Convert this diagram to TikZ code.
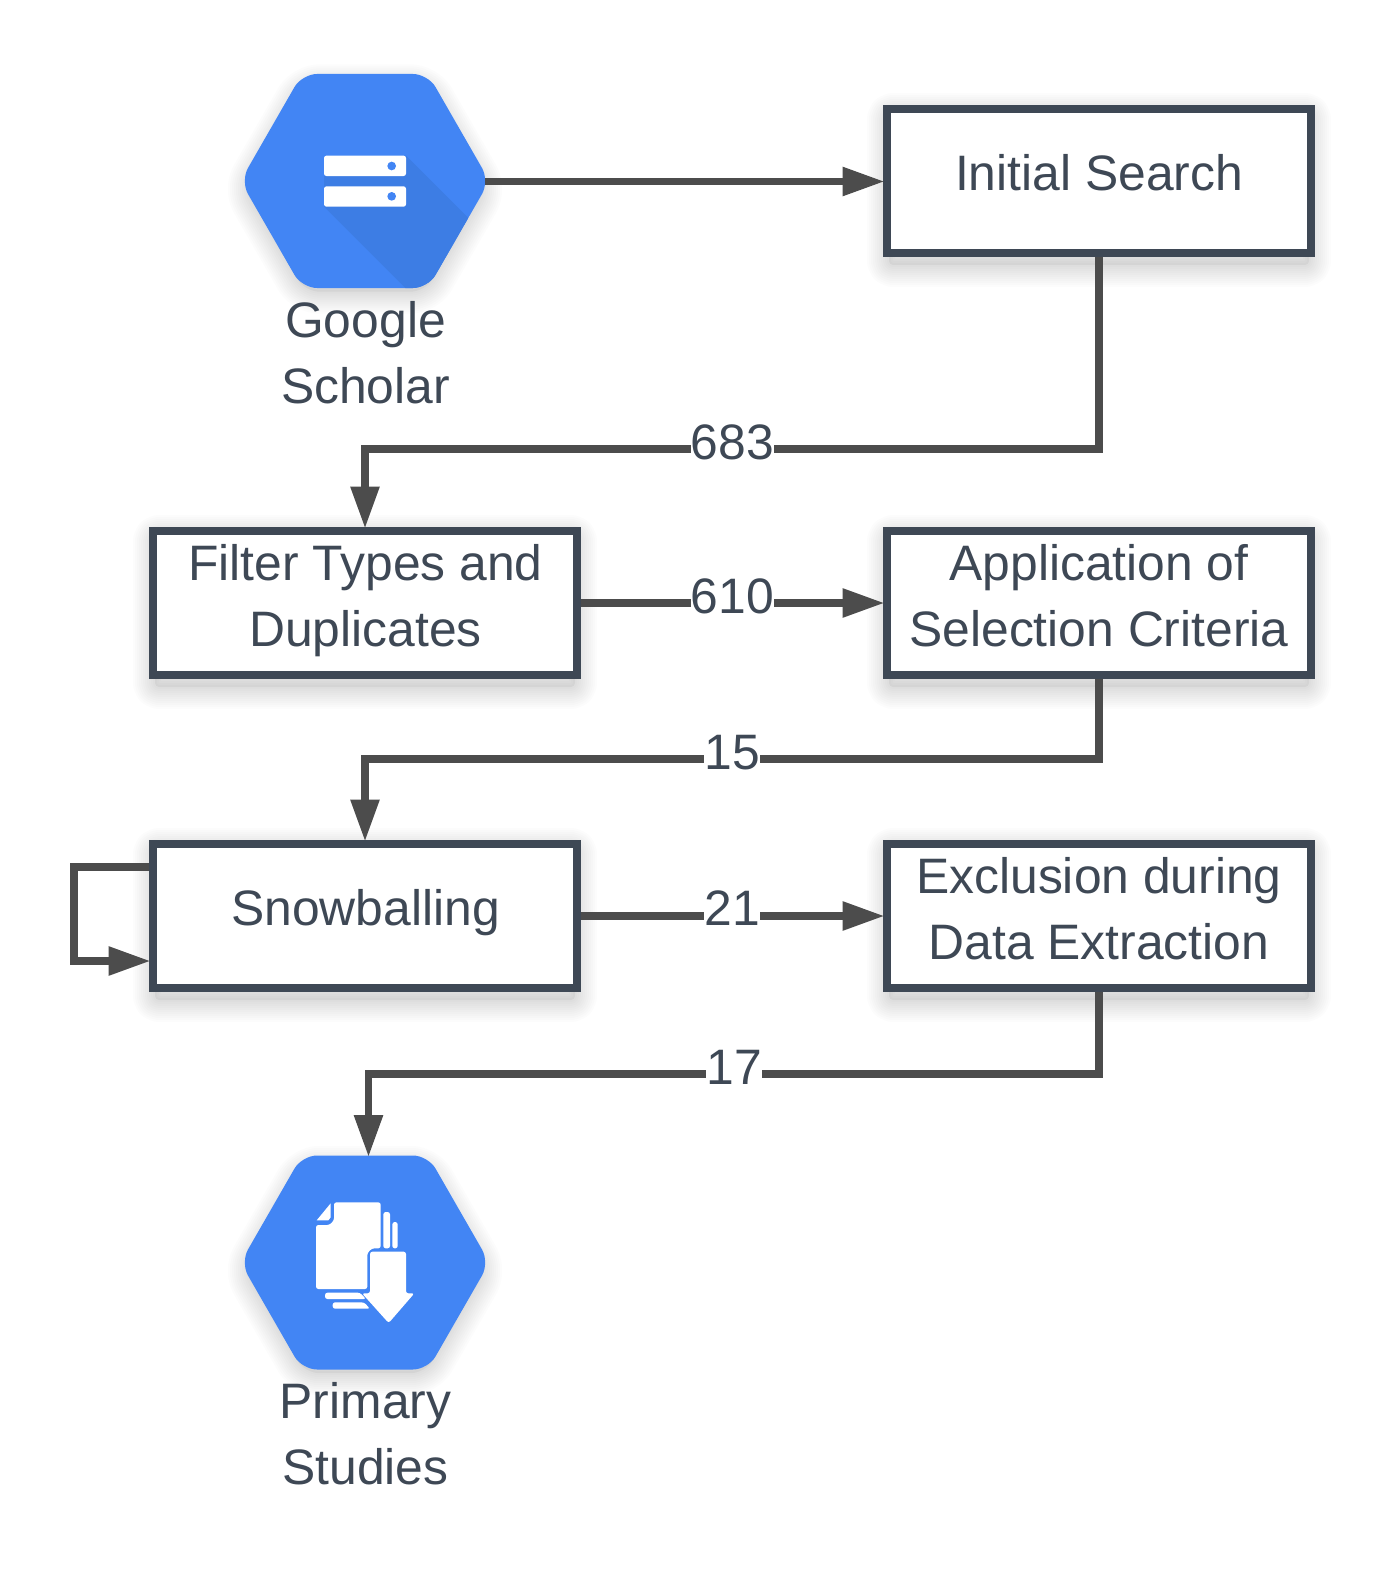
\documentclass[tikz,border=0pt]{standalone}
\usepackage{fontspec}
\setmainfont{Liberation Sans}
\usetikzlibrary{arrows.meta,calc}
\definecolor{boxline}{HTML}{3E4855}
\definecolor{conn}{HTML}{4C4C4C}
\definecolor{hexblue}{HTML}{4285F4}
\definecolor{hexdark}{HTML}{3D7DE4}
\newcommand{\hexshape}{(0,-107) -- (63,-107) -- (124.5,0) -- (63,107) -- (-63,107) -- (-124.5,0) -- (-63,-107) -- cycle}
\newcommand{\softshadow}[1]{%
  \fill[black,opacity=0.04,rounded corners=#1] \shadowpath;%
  \foreach \w in {4,8,12,16,20,24,28,32,36,40,44}{%
    \draw[black,opacity=0.013,line width=\w*0.5pt,line join=round,rounded corners=#1] \shadowpath;%
  }}
\tikzset{
  x=0.5pt,y=-0.5pt,
  flowbox/.style={draw=boxline,fill=white,line width=4pt,rectangle,minimum width=212pt,minimum height=72pt,inner sep=0pt},
  hexanchor/.style={rectangle,minimum width=120pt,minimum height=107pt,inner sep=0pt,outer sep=0pt},
  lbl/.style={text=boxline,font=\fontsize{24.9}{33}\selectfont,align=center,inner sep=0pt},
  num/.style={text=boxline,font=\fontsize{24.9}{33}\selectfont,fill=white,inner sep=0pt,text depth=0pt},
  link/.style={draw=conn,line width=3.7pt,line join=miter},
  flow/.style={link,-{Triangle[length=21pt,width=13.75pt]},shorten >=-0.75pt},
  whiteicon/.style={fill=white,draw=none,rounded corners=1.2pt}
}
\begin{document}
\begin{tikzpicture}
\useasboundingbox (0,0) rectangle (1386,1573);
\fill[white] (0,0) rectangle (1386,1573);
% soft shadows
\def\shadowpath{(889,115) rectangle (1309,265)}\softshadow{2pt}
\def\shadowpath{(155,537) rectangle (575,687)}\softshadow{2pt}
\def\shadowpath{(889,537) rectangle (1309,687)}\softshadow{2pt}
\def\shadowpath{(155,850) rectangle (575,1000)}\softshadow{2pt}
\def\shadowpath{(889,850) rectangle (1309,1000)}\softshadow{2pt}
\begin{scope}[shift={(365,189)},scale=0.96]
  \def\shadowpath{\hexshape}\softshadow{7.5pt}
\end{scope}
\begin{scope}[shift={(365,1270.5)},scale=0.96]
  \def\shadowpath{\hexshape}\softshadow{7.5pt}
\end{scope}
% hexagon Google Scholar
\begin{scope}[shift={(365,181)}]
  \fill[hexblue,rounded corners=7.5pt] \hexshape;
  \begin{scope}
    \clip[rounded corners=7.5pt] \hexshape;
    \begin{scope}[shift={(-135,-121)},x=0.16667pt,y=-0.16667pt]
      \fill[hexdark] (528,287) -- (790,549) -- (790,700) -- (542,700) -- (282,440) -- (282,348) -- cycle;
      \fill[whiteicon] (282,287) rectangle (528,348);
      \fill[whiteicon] (282,379) rectangle (528,440);
      \fill[hexblue] (485,318) circle[radius=13];
      \fill[hexblue] (485,409) circle[radius=13];
    \end{scope}
  \end{scope}
\end{scope}
% hexagon Primary Studies
\begin{scope}[shift={(365,1262.5)}]
  \fill[hexblue,rounded corners=7.5pt] \hexshape;
  \begin{scope}[shift={(-135,-122.5)},x=0.16667pt,y=-0.16667pt]
    \fill[whiteicon] (312,187) -- (452,187) -- (452,325) -- (426,325) -- (412,339) -- (412,447) -- (258,447) -- (258,255) -- (298,255) -- (312,241) -- cycle;
    \fill[white] (260,241) -- (302,190) -- (302,232) -- (295,241) -- cycle;
    \fill[whiteicon] (460,216) -- (480,216) -- (480,325) -- (460,325) -- cycle;
    \fill[whiteicon] (487,246) -- (503,246) -- (503,325) -- (487,325) -- cycle;
    \fill[whiteicon] (285,458) -- (390,458) -- (408,477) -- (285,477) -- cycle;
    \fill[whiteicon] (308,487) -- (402,487) -- (420,506) -- (308,506) -- cycle;
    \fill[whiteicon] (420,335) -- (528,335) -- (528,460) -- (553,460) -- (476,549) -- (396,460) -- (420,460) -- cycle;
  \end{scope}
\end{scope}
% anchors for the hexagons
\node[hexanchor] (gs) at (365,181.5) {};
\node[hexanchor] (ps) at (365,1262.5) {};
% boxes
\node[flowbox] (init) at (1099,181.5) {};
\node[flowbox] (filter) at (365,603) {};
\node[flowbox] (appl) at (1099,603) {};
\node[flowbox] (snow) at (365,916) {};
\node[flowbox] (excl) at (1099,916) {};
% bends
\coordinate (b1) at (365,449);
\coordinate (b2) at (365,759);
\coordinate (b3) at (368.5,1074);
\coordinate (b4) at (74,867);
\coordinate (psin) at (368.5,1155.5);
% connectors
\draw[flow] (gs.east) -- (init.west);
\draw[flow] (init.south) |- (b1) -- (filter.north);
\draw[flow] (filter.east) -- (appl.west);
\draw[flow] (appl.south) |- (b2) -- (snow.north);
\draw[flow] (snow.east) -- (excl.west);
\draw[flow] (excl.south) |- (b3) -- (psin);
\draw[flow] ($(snow.north west)+(0,27)$) -- (b4) |- ($(snow.north west)+(0,121)$);
% edge labels
\node[num] (n683) at (732.5,442.5) {683};
\node[num] (n610) at (732.5,596) {610};
\node[num] (n15) at (732,752.5) {15};
\node[num] (n21) at (732,908.5) {21};
\node[num] (n17) at (734,1067) {17};
% text
\node[lbl] (tinit) at (1099,173) {Initial Search};
\node[lbl] (tfilter) at (365.5,600.5) {Filter Types and\\Duplicates};
\node[lbl] (tappl) at (1099,595.5) {Application of\\Selection Criteria};
\node[lbl] (tsnow) at (365.5,912.5) {Snowballing};
\node[lbl] (texcl) at (1099,908.5) {Exclusion during\\Data Extraction};
\node[lbl] (tgs) at (365.5,353) {Google\\Scholar};
\node[lbl] (tps) at (365.5,1434) {Primary\\Studies};
\end{tikzpicture}
\end{document}
